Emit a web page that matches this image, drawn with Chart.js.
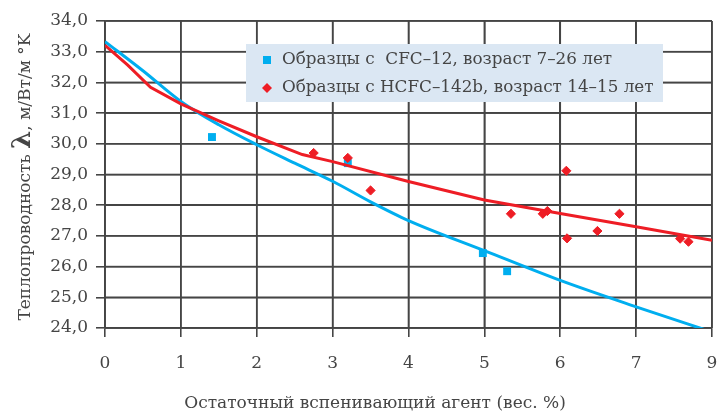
<!DOCTYPE html>
<html lang="ru">
<head>
<meta charset="utf-8">
<title>Теплопроводность</title>
<script src="https://cdn.jsdelivr.net/npm/chart.js@4.4.1/dist/chart.umd.min.js"></script>
<style>
    html, body { margin: 0; padding: 0; background: #fff; }
    #chart { display: block; }
</style>
</head>
<body>
<canvas id="chart" width="719" height="415"></canvas>
<script>
// Tick labels (the original skips "8" and labels the last line "9")
const xTickLabels = ['0', '1', '2', '3', '4', '5', '6', '7', '9'];
const yMin = 24;
const yMax = 34;

// Samples with CFC-12
const cfcLabel = 'Образцы с  CFC–12, возраст 7–26 лет';
const cfcX = [1.41, 3.2, 4.98, 5.3];
const cfcY = [30.22, 29.37, 26.44, 25.85];

// Samples with HCFC-142b
const hcfcLabel = 'Образцы с HCFC–142b, возраст 14–15 лет';
const hcfcX = [2.75, 3.2, 3.5, 5.35, 5.77, 5.83, 6.08, 6.09, 6.49, 6.78, 7.58, 7.69];
const hcfcY = [29.70, 29.54, 28.48, 27.72, 27.72, 27.81, 29.12, 26.92, 27.16, 27.72, 26.91, 26.81];

// Trend curves
const cfcFitX = [0, 0.5, 1, 1.5, 2, 2.5, 3, 3.5, 4, 5, 6, 7, 8];
const cfcFitY = [33.33, 32.38, 31.38, 30.62, 29.97, 29.37, 28.78, 28.11, 27.5, 26.52, 25.55, 24.69, 23.87];
const hcfcFitX = [0, 0.3, 0.6, 1, 1.5, 2, 2.6, 3, 4, 5, 6, 7, 8];
const hcfcFitY = [33.21, 32.56, 31.84, 31.3, 30.75, 30.23, 29.65, 29.42, 28.77, 28.17, 27.73, 27.3, 26.86];

const BLUE = '#00aeef';
const RED = '#ee1d25';
const GRID = '#454545';
const TEXT = '#454545';
const FONT = '"DejaVu Serif", serif';

function toPoints(xs, ys) {
    return xs.map((x, i) => ({ x: x, y: ys[i] }));
}

// Grid lines inside the plot, one per axis step, drawn as thin bars
const gridPlugin = {
    id: 'plotGrid',
    beforeDatasetsDraw(chart) {
        const ctx = chart.ctx;
        const area = chart.chartArea;
        const xs = chart.scales.x;
        const ys = chart.scales.y;
        ctx.save();
        ctx.globalAlpha = 1;
        ctx.fillStyle = GRID;
        for (let v = 0; v < xTickLabels.length; v++) {
            const px = xs.getPixelForValue(v);
            ctx.fillRect(px - 0.8, area.top, 1.6, area.bottom - area.top);
        }
        for (let v = yMin; v <= yMax; v++) {
            const py = ys.getPixelForValue(v);
            ctx.fillRect(area.left, py - 0.8, area.right - area.left, 1.6);
        }
        ctx.restore();
    }
};

// Axis titles and the boxed legend are drawn by hand
const decorPlugin = {
    id: 'decor',
    afterDraw(chart) {
        const ctx = chart.ctx;
        ctx.save();
        ctx.fillStyle = TEXT;

        // x title
        ctx.font = '17px ' + FONT;
        ctx.textAlign = 'center';
        ctx.textBaseline = 'alphabetic';
        ctx.fillText('Остаточный вспенивающий агент (вес. %)', 375, 408);

        // y title, with a larger lambda
        const parts = [
            { t: 'Теплопроводность ', f: '17px ' + FONT },
            { t: 'λ', f: 'bold 26px ' + FONT },
            { t: ', м/Вт/м °K', f: '17px ' + FONT }
        ];
        let total = 0;
        parts.forEach(p => { ctx.font = p.f; p.w = ctx.measureText(p.t).width; total += p.w; });
        ctx.translate(30, 177);
        ctx.rotate(-Math.PI / 2);
        ctx.textAlign = 'left';
        let pos = -total / 2;
        parts.forEach(p => { ctx.font = p.f; ctx.fillText(p.t, pos, 0); pos += p.w; });
        ctx.restore();

        // legend box
        ctx.save();
        ctx.fillStyle = '#dbe7f3';
        ctx.fillRect(246, 44, 417, 58);
        const items = [chart.data.datasets[0], chart.data.datasets[1]];
        const rows = [60, 88];
        items.forEach((ds, i) => {
            const cy = rows[i];
            ctx.fillStyle = ds.backgroundColor;
            if (ds.pointStyle === 'rect') {
                ctx.fillRect(263, cy - 4, 8, 8);
            } else {
                ctx.beginPath();
                ctx.moveTo(267, cy - 5);
                ctx.lineTo(272, cy);
                ctx.lineTo(267, cy + 5);
                ctx.lineTo(262, cy);
                ctx.closePath();
                ctx.fill();
            }
            ctx.fillStyle = TEXT;
            ctx.font = '16.8px ' + FONT;
            ctx.textAlign = 'left';
            ctx.textBaseline = 'middle';
            ctx.fillText(ds.label, 282, cy);
        });
        ctx.restore();
    }
};

new Chart(document.getElementById('chart'), {
    type: 'scatter',
    data: {
        datasets: [{
            label: cfcLabel,
            data: toPoints(cfcX, cfcY),
            pointStyle: 'rect',
            pointRadius: 5.6,
            borderWidth: 0,
            backgroundColor: BLUE,
            borderColor: BLUE,
            order: 2
        }, {
            label: hcfcLabel,
            data: toPoints(hcfcX, hcfcY),
            pointStyle: 'rectRot',
            pointRadius: 4.6,
            borderWidth: 1,
            backgroundColor: RED,
            borderColor: RED,
            order: 0
        }, {
            label: 'cfc fit',
            data: toPoints(cfcFitX, cfcFitY),
            showLine: true,
            pointRadius: 0,
            borderColor: BLUE,
            borderWidth: 3,
            cubicInterpolationMode: 'monotone',
            fill: false,
            order: 3
        }, {
            label: 'hcfc fit',
            data: toPoints(hcfcFitX, hcfcFitY),
            showLine: true,
            pointRadius: 0,
            borderColor: RED,
            borderWidth: 3,
            tension: 0,
            fill: false,
            order: 1
        }]
    },
    options: {
        responsive: false,
        animation: false,
        devicePixelRatio: 1,
        layout: {
            padding: { left: 0, right: 7, top: 21, bottom: 0 }
        },
        plugins: {
            legend: { display: false },
            tooltip: { enabled: false }
        },
        scales: {
            x: {
                type: 'linear',
                min: 0,
                max: 8,
                afterFit: function(scale) {
                    scale.height = 87;
                    scale.paddingLeft = 0;
                    scale.paddingRight = 0;
                },
                ticks: {
                    stepSize: 1,
                    padding: 16,
                    color: TEXT,
                    font: { family: FONT, size: 17 },
                    callback: function(value) { return xTickLabels[value]; }
                },
                grid: {
                    drawOnChartArea: true,
                    color: GRID,
                    lineWidth: 1.6,
                    tickLength: 9
                },
                border: { display: true, color: GRID, width: 1.6 }
            },
            y: {
                type: 'linear',
                min: yMin,
                max: yMax,
                afterFit: function(scale) {
                    scale.width = 105;
                    scale.paddingTop = 0;
                    scale.paddingBottom = 0;
                },
                ticks: {
                    stepSize: 1,
                    padding: 8,
                    color: TEXT,
                    font: { family: FONT, size: 17 },
                    callback: function(value) { return value.toFixed(1).replace('.', ','); }
                },
                grid: {
                    drawOnChartArea: true,
                    color: GRID,
                    lineWidth: 1.6,
                    tickLength: 9
                },
                border: { display: true, color: GRID, width: 1.6 }
            }
        }
    },
    plugins: [gridPlugin, decorPlugin]
});
</script>
</body>
</html>
